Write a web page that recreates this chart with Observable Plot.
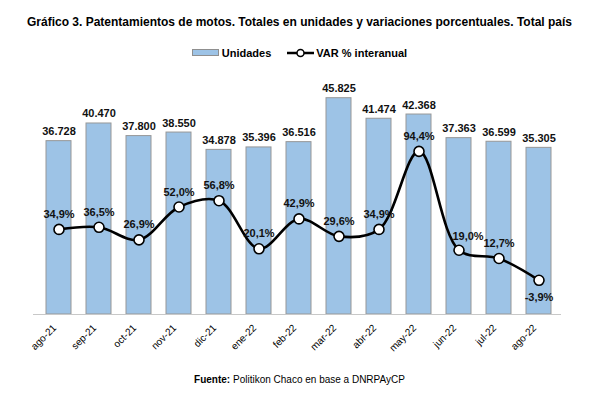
<!DOCTYPE html>
<html>
<head>
<meta charset="utf-8">
<script src="https://cdn.jsdelivr.net/npm/d3@7"></script>
<script src="https://cdn.jsdelivr.net/npm/@observablehq/plot@0.6"></script>
<style>
  body { margin: 0; background: #fff; font-family: "Liberation Sans", Arial, sans-serif; }
  #wrap { position: relative; width: 599px; height: 412px; }
  .abs { position: absolute; line-height: 1; white-space: nowrap; color: #000; }
  #title { top: 16px; left: 0; width: 599px; text-align: center; font-weight: bold; font-size: 12px; }
  #legend { top: 48px; left: 0; width: 599px; text-align: center; font-weight: bold; font-size: 11px; }
  #caption { top: 375px; left: 0; width: 599px; text-align: center; font-size: 10px; }
  .sw { display: inline-block; width: 25px; height: 5px; background: #9DC3E6; border: 1px solid #8F8F8F; vertical-align: 1px; margin-right: 3px; }
  .ln { display: inline-block; vertical-align: -1px; margin: 0 2px 0 16px; }
</style>
</head>
<body>
<div id="wrap">
  <div id="chart"></div>
  <div id="title" class="abs">Gráfico 3. Patentamientos de motos. Totales en unidades y variaciones porcentuales. Total país</div>
  <div id="legend" class="abs"><span class="sw"></span>Unidades<svg class="ln" width="27" height="10"><line x1="0" x2="27" y1="5" y2="5" stroke="#000" stroke-width="2.5"/><circle cx="13.5" cy="5" r="3.5" fill="#fff" stroke="#000" stroke-width="1.5"/></svg>VAR % interanual</div>
  <div id="caption" class="abs"><b>Fuente:</b> Politikon Chaco en base a DNRPAyCP</div>
</div>
<script>
const months = ["ago-21","sep-21","oct-21","nov-21","dic-21","ene-22","feb-22","mar-22","abr-22","may-22","jun-22","jul-22","ago-22"];
const units = [36728,40470,37800,38550,34878,35396,36516,45825,41474,42368,37363,36599,35305];
const varPct = [34.9,36.5,26.9,52.0,56.8,20.1,42.9,29.6,34.9,94.4,19.0,12.7,-3.9];

const unitsMax = 50000;          // primary axis max
const pctDomain = [-30, 150];    // secondary axis domain
const toPrimary = p => (p - pctDomain[0]) / (pctDomain[1] - pctDomain[0]) * unitsMax;

const data = months.map((m, i) => ({month: m, units: units[i], pct: varPct[i], py: toPrimary(varPct[i])}));

const loc = d3.formatLocale({decimal: ",", thousands: ".", grouping: [3], currency: ["$", ""], minus: "-"});
const fmtU = loc.format(",");
const fmtP = v => loc.format(".1f")(v) + "%";

const above = data.filter(d => d.pct >= 0 && d.month !== "jun-22");
const shifted = data.filter(d => d.month === "jun-22");
const below = data.filter(d => d.pct < 0);

const plot = Plot.plot({
  width: 599,
  height: 412,
  marginTop: 78,
  marginBottom: 98,
  marginLeft: 25,
  marginRight: 26,
  style: {fontFamily: "'Liberation Sans', Arial, sans-serif", background: "transparent"},
  x: {domain: months, padding: 0.37, axis: null},
  y: {domain: [0, unitsMax], axis: null},
  marks: [
    Plot.barY(data, {x: "month", y: "units", fill: "#9DC3E6", stroke: "#979797", strokeWidth: 1}),
    Plot.ruleY([0], {stroke: "#C8C8C8", strokeWidth: 1.2, insetLeft: 8, insetRight: 12}),
    Plot.text(data, {x: "month", y: "units", text: d => fmtU(d.units), lineAnchor: "bottom", dy: -6, fontSize: 11, fontWeight: "bold", fill: "#111"}),
    Plot.line(data, {x: "month", y: "py", stroke: "#000", strokeWidth: 2.6, curve: "catmull-rom"}),
    Plot.dot(data, {x: "month", y: "py", r: 5, fill: "#fff", stroke: "#000", strokeWidth: 1.6}),
    Plot.text(above, {x: "month", y: "py", text: d => fmtP(d.pct), dy: -15, fontSize: 11, fontWeight: "bold", fill: "#111"}),
    Plot.text(shifted, {x: "month", y: "py", text: d => fmtP(d.pct), dy: -14, dx: 9, fontSize: 11, fontWeight: "bold", fill: "#111"}),
    Plot.text(below, {x: "month", y: "py", text: d => fmtP(d.pct), dy: 17, fontSize: 11, fontWeight: "bold", fill: "#111"}),
    Plot.text(months, {x: d => d, frameAnchor: "bottom", text: d => d, rotate: -45, textAnchor: "end", dx: -2, dy: 14, fontSize: 10, fill: "#000"})
  ]
});
document.getElementById("chart").appendChild(plot);
</script>
</body>
</html>
